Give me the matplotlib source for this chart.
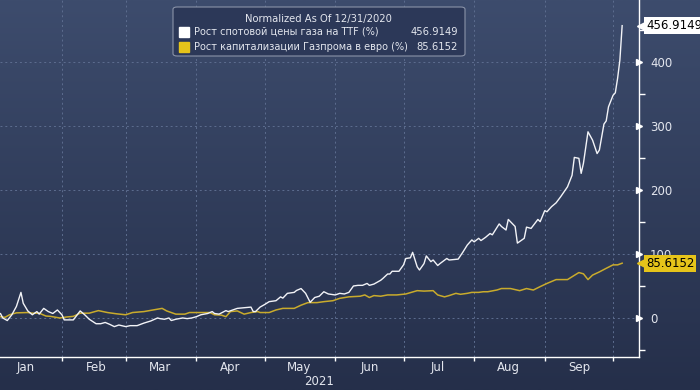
import matplotlib
matplotlib.use("Agg")
import matplotlib.pyplot as plt
import matplotlib.dates as mdates
import matplotlib.transforms as mtransforms
from matplotlib.patches import FancyBboxPatch
from matplotlib.lines import Line2D
from matplotlib.colors import LinearSegmentedColormap
import numpy as np

# days counted from 2021-01-01, values in % vs 12/31/2020
ttf_days = [-1, 4, 5, 7, 9, 11, 13, 14, 16, 18, 20, 21, 23, 25, 27, 29, 31, 32, 35, 36,
            39, 41, 43, 46, 48, 50, 52, 54, 56, 59, 61, 64, 67, 70, 73, 74, 76, 78, 79,
            81, 84, 86, 88, 90, 92, 95, 97, 98, 100, 103, 104, 106, 108, 111, 114, 115,
            116, 118, 120, 122, 125, 127, 128, 130, 133, 134, 136, 138, 140, 142, 144,
            146, 148, 151, 153, 155, 157, 159, 161, 163, 165, 166, 168, 171, 172, 174,
            175, 176, 179, 181, 182, 184, 185, 187, 188, 190, 191, 193, 194, 196, 197,
            200, 201, 204, 205, 207, 209, 211, 212, 214, 215, 217, 219, 220, 223, 224,
            226, 227, 230, 231, 234, 235, 237, 240, 241, 243, 244, 246, 248, 250, 252,
            253, 255, 256, 258, 259, 260, 262, 264, 266, 267, 269, 270, 271, 273, 274,
            275, 276, 277]
ttf_vals = [0, 7, 0, -4, 5, 18, 40, 23, 11, 5, 10, 6, 15, 10, 7, 12.5, 5, -3, -3, -3,
            11, 5, -2, -9, -9, -7, -10, -13.5, -11, -13.5, -12, -12, -8, -4.7, 0, -1, -2,
            0, -4, -2, 0, -1, 0, 2, 5, 7, 10, 7, 6, 11.5, 10, 12.5, 15, 16, 17, 10,
            10, 17, 21, 25.5, 27, 33, 31, 38.5, 40, 43, 46, 38.5, 24.5, 32, 34,
            41, 37.5, 36, 38.5, 37.5, 40, 50, 51, 51, 54, 51, 53, 59, 62, 68.7,
            68.7, 73, 73, 83, 93, 94, 102.6, 80, 75, 85, 97, 88, 90.6, 82, 85,
            93, 90.6, 91.7, 92, 102.6, 114, 122, 119, 124.5, 121, 126, 132, 130, 147, 143,
            137.5, 154, 143, 117, 124.5, 142, 140, 154, 150.5, 167.7, 166, 174, 180, 189.5, 200,
            205, 223, 251, 249.5, 226, 241.7, 291, 278, 257, 262.5, 303, 308, 330, 348, 352,
            374.5, 403, 456.9149]

gaz_days = [-1, 4, 6, 8, 11, 16, 18, 21, 24, 26, 30, 33, 36, 39, 43, 47, 51, 55, 59, 62,
            67, 71, 75, 77, 81, 85, 87, 92, 96, 98, 101, 103, 105, 108, 111, 114, 117,
            118, 122, 125, 128, 133, 136, 139, 143, 146, 150, 153, 157, 162, 164, 166,
            168, 171, 174, 178, 182, 187, 190, 194, 196, 199, 201, 204, 206, 209, 211,
            214, 216, 218, 222, 224, 228, 232, 235, 238, 241, 244, 248, 253, 258, 260,
            262, 264, 267, 270, 273, 275, 277]
gaz_vals = [0, 2, 1, 5, 8, 8.5, 7.5, 7.5, 3, 2.5, 0, 1.5, 2.5, 7.5, 7.5, 11.5, 8.5, 6.5, 5, 8.5,
            10, 12.5, 15, 11, 6, 6, 8.5, 8.5, 8.5, 5, 4.5, 2, 10, 11, 6, 8.5, 10,
            8.5, 8.5, 12.5, 15, 15, 20, 24, 24, 25.5, 27, 30.7, 33, 34, 36, 32,
            35, 34, 36, 36, 37.5, 42.7, 42, 42.7, 36, 33, 35, 38.5, 37, 38.5, 40,
            40, 41, 41, 43.7, 46, 46, 42.7, 46, 43.7, 49, 54, 60, 60, 71, 69,
            60, 67, 72, 77.6, 83, 83, 85.6152]

month_labels = ["Jan", "Feb", "Mar", "Apr", "May", "Jun", "Jul", "Aug", "Sep"]
year_label = "2021"
legend_title = "Normalized As Of 12/31/2020"
series_names = ["Рост спотовой цены газа на TTF (%)",
                "Рост капитализации Газпрома в евро (%)"]
last_vals = [456.9149, 85.6152]

line_colors = ["#f2f3f7", "#c9ab2c"]
tag_colors = ["#ffffff", "#e6c41a"]
txt_col = "#e3e6ee"
grid_col = "#5d6d8f"

start = np.datetime64("2021-01-01")
ttf_dates = start + np.array(ttf_days).astype("timedelta64[D]")
gaz_dates = start + np.array(gaz_days).astype("timedelta64[D]")

fig = plt.figure(figsize=(7, 3.9), dpi=100)

# background gradient
bg = fig.add_axes([0, 0, 1, 1], zorder=-10)
grad = np.linspace(0, 1, 256).reshape(-1, 1)
cmap = LinearSegmentedColormap.from_list("bg", ["#3d4c6d", "#252f4a"])
bg.imshow(grad, aspect="auto", cmap=cmap, extent=[0, 1, 0, 1])
bg.axis("off")

ax = fig.add_axes([0, 33 / 390, 639 / 700, 357 / 390])
ax.set_facecolor("none")

ax.plot(gaz_dates, gaz_vals, color=line_colors[1], lw=1.1, zorder=3)
ax.plot(ttf_dates, ttf_vals, color=line_colors[0], lw=1.0, zorder=4)

x0 = mdates.date2num(start)
ax.set_xlim(x0 + 3.8, x0 + 284.4)
ax.set_ylim(-61, 497)

ax.xaxis.set_major_locator(mdates.MonthLocator())
ax.xaxis.set_major_formatter(plt.NullFormatter())
ax.xaxis.set_minor_locator(mdates.MonthLocator(bymonthday=16))
ax.xaxis.set_minor_formatter(mdates.DateFormatter("%b"))
ax.tick_params(axis="x", which="major", direction="out", length=3, color="white", width=1)
ax.tick_params(axis="x", which="minor", length=0, labelcolor=txt_col, labelsize=8.5, pad=3)

ax.yaxis.tick_right()
ax.set_yticks([0, 100, 200, 300, 400])
ax.set_yticks(np.arange(-50, 500, 50), minor=True)
ax.tick_params(axis="y", which="major", length=0, labelcolor=txt_col, labelsize=8.5, pad=8)
ax.tick_params(axis="y", which="minor", direction="out", length=4, color="white", width=1)

for s in ["top", "left"]:
    ax.spines[s].set_visible(False)
for s in ["bottom", "right"]:
    ax.spines[s].set_color("white")
    ax.spines[s].set_linewidth(1.0)

ax.grid(True, which="major", color=grid_col, lw=0.7, ls=(0, (2, 3)))

# caret markers for the major y ticks
yt = ax.get_yaxis_transform()
ax.plot([1.0] * 5, [0, 100, 200, 300, 400], ls="none", marker=">", ms=4.5,
        color="white", transform=yt, clip_on=False)

ax.text(0.5, -0.068, year_label, transform=ax.transAxes, ha="center", va="center",
        color=txt_col, fontsize=8.5)

# last value tags
for val, col in zip(last_vals, tag_colors):
    mk = mtransforms.offset_copy(yt, fig=fig, x=3, y=0, units="points")
    ax.plot([1.0], [val], ls="none", marker="<", ms=8, color=col, transform=mk,
            clip_on=False, zorder=6)
    ax.annotate(f"{val:.4f}", xy=(1.0, val), xycoords=yt, xytext=(5, 0),
                textcoords="offset points", ha="left", va="center", fontsize=8.5,
                color="black", zorder=7, annotation_clip=False,
                bbox=dict(boxstyle="square,pad=0.18", fc=col, ec="none"))

# legend box
box = FancyBboxPatch((173 / 700, 1 - 56 / 390), (465 - 173) / 700, 49 / 390,
                     boxstyle="round,pad=0,rounding_size=0.006", transform=fig.transFigure,
                     fc="#2c3858", ec="#8a93a8", lw=0.8, zorder=10)
fig.add_artist(box)
fig.text(318 / 700, 1 - 19 / 390, legend_title, ha="center", va="center",
         color=txt_col, fontsize=7.2, zorder=11)
for i, (name, val, col) in enumerate(zip(series_names, last_vals, tag_colors)):
    yy = 1 - (32 + 15 * i) / 390
    fig.add_artist(Line2D([184 / 700], [yy], marker="s", ms=6.5, color=col, ls="none",
                          transform=fig.transFigure, zorder=11))
    fig.text(194 / 700, yy, name, ha="left", va="center", color=txt_col, fontsize=7.0, zorder=11)
    fig.text(458 / 700, yy, f"{val:.4f}", ha="right", va="center", color=txt_col,
             fontsize=7.2, zorder=11)

fig.savefig("out.png", dpi=100)
